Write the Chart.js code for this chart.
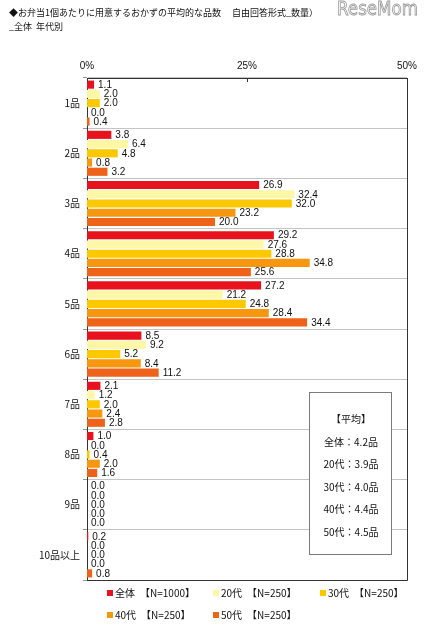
<!DOCTYPE html>
<html>
<head>
<meta charset="utf-8">
<script src="https://cdn.jsdelivr.net/npm/chart.js@4.4.1/dist/chart.umd.min.js"></script>
<style>
  html, body { margin: 0; padding: 0; background: #fff; }
  #wrap { width: 425px; height: 640px; }
</style>
</head>
<body>
<div id="wrap"><canvas id="myChart" width="425" height="640"></canvas></div>
<script>
// chart values
var categories = ['1品', '2品', '3品', '4品', '5品', '6品', '7品', '8品', '9品', '10品以上'];
var seriesNames = ['全体', '20代', '30代', '40代', '50代'];
var sampleSizes = [1000, 250, 250, 250, 250];
var valuesAll = [1.1, 3.8, 26.9, 29.2, 27.2, 8.5, 2.1, 1.0, 0.0, 0.2];
var values20s = [2.0, 6.4, 32.4, 27.6, 21.2, 9.2, 1.2, 0.0, 0.0, 0.0];
var values30s = [2.0, 4.8, 32.0, 28.8, 24.8, 5.2, 2.0, 0.4, 0.0, 0.0];
var values40s = [0.0, 0.8, 23.2, 34.8, 28.4, 8.4, 2.4, 2.0, 0.0, 0.0];
var values50s = [0.4, 3.2, 20.0, 25.6, 34.4, 11.2, 2.8, 1.6, 0.0, 0.8];
var averages = [4.2, 3.9, 4.0, 4.4, 4.5];
var tickValues = [0, 25, 50];

var seriesColors = ['#e8121c', '#fdf7a6', '#fcc800', '#f7960f', '#ef6219'];
var jpFont = '"Noto Sans CJK JP", sans-serif';
var numFont = '"Liberation Sans", Arial, sans-serif';

var allValues = [valuesAll, values20s, values30s, values40s, values50s];
var datasets = seriesNames.map(function(name, i) {
  return {
    label: name + '　【N=' + sampleSizes[i] + '】',
    data: allValues[i],
    backgroundColor: seriesColors[i],
    borderWidth: 0,
    categoryPercentage: 0.92,
    barPercentage: 0.88
  };
});

// title, logo, value labels, average box, legend, frame
var extras = {
  id: 'extras',
  afterDraw: function(chart) {
    var ctx = chart.ctx;
    var area = chart.chartArea;
    var xs = chart.scales.x;
    ctx.save();

    // title
    ctx.fillStyle = '#111';
    ctx.textBaseline = 'middle';
    ctx.textAlign = 'left';
    ctx.font = '9px ' + jpFont;
    ctx.fillText('◆お弁当1個あたりに用意するおかずの平均的な品数　 自由回答形式_数量）', 9, 13);
    ctx.fillText('_全体  年代別', 9, 27);

    // logo
    ctx.font = '19px "DejaVu Sans", sans-serif';
    var w = ctx.measureText('ReseMom').width;
    ctx.save();
    ctx.translate(337, 10);
    ctx.scale(81 / w, 1);
    ctx.strokeStyle = '#9a9a9a';
    ctx.lineWidth = 0.9;
    ctx.strokeText('ReseMom', 0, 0);
    ctx.restore();

    // value labels
    ctx.font = '10px ' + numFont;
    ctx.fillStyle = '#111';
    ctx.textAlign = 'left';
    chart.data.datasets.forEach(function(ds, i) {
      var meta = chart.getDatasetMeta(i);
      meta.data.forEach(function(bar, j) {
        ctx.fillText(ds.data[j].toFixed(1), bar.x + 4, bar.y + 0.5);
      });
    });

    // frame
    ctx.strokeStyle = '#333';
    ctx.lineWidth = 1;
    ctx.beginPath();
    ctx.moveTo(area.left, area.top + 0.5);
    ctx.lineTo(area.right + 0.5, area.top + 0.5);
    ctx.lineTo(area.right + 0.5, area.bottom + 0.5);
    ctx.lineTo(area.left, area.bottom + 0.5);
    tickValues.forEach(function(v) {
      var px = Math.round(xs.getPixelForValue(v)) + 0.5;
      ctx.moveTo(px, area.top);
      ctx.lineTo(px, area.top + 4);
    });
    ctx.stroke();

    // average box
    ctx.fillStyle = '#fff';
    ctx.fillRect(309, 392, 82, 162);
    ctx.strokeStyle = '#7a7a7a';
    ctx.strokeRect(309.5, 392.5, 82, 162);
    ctx.fillStyle = '#111';
    ctx.textAlign = 'center';
    ctx.font = '10px ' + jpFont;
    ctx.fillText('【平均】', 351, 419);
    averages.forEach(function(a, i) {
      ctx.fillText(seriesNames[i] + '：' + a.toFixed(1) + '品', 351, 442 + i * 22.5);
    });

    // legend
    var cols = [107, 213, 320];
    ctx.textAlign = 'left';
    chart.data.datasets.forEach(function(ds, i) {
      var x = cols[i % 3];
      var y = 593 + Math.floor(i / 3) * 22;
      ctx.fillStyle = ds.backgroundColor;
      ctx.fillRect(x, y - 3, 6, 6);
      ctx.fillStyle = '#111';
      ctx.fillText(ds.label, x + 8, y);
    });

    ctx.restore();
  }
};

var myChart = new Chart('myChart', {
  type: 'bar',
  data: { labels: categories, datasets: datasets },
  options: {
    indexAxis: 'y',
    responsive: false,
    animation: false,
    layout: { padding: { left: 0, top: 0, right: 18, bottom: 60 } },
    plugins: {
      legend: { display: false },
      title: { display: false },
      tooltip: { enabled: false }
    },
    scales: {
      x: {
        position: 'top',
        min: 0,
        max: 50,
        afterFit: function(scale) { scale.height = 78; },
        afterBuildTicks: function(scale) {
          scale.ticks = tickValues.map(function(v) { return { value: v }; });
        },
        ticks: {
          padding: 6,
          color: '#111',
          font: { family: numFont, size: 10 },
          callback: function(v) { return v + '%'; }
        },
        grid: { display: false, drawTicks: false },
        border: { display: true, color: '#333' }
      },
      y: {
        afterFit: function(scale) { scale.width = 87; },
        ticks: {
          padding: 3,
          color: '#111',
          font: { family: jpFont, size: 10 }
        },
        grid: { offset: true, color: '#c4c4c4', tickLength: 4, tickColor: '#999' },
        border: { display: true, color: '#333' }
      }
    }
  },
  plugins: [extras]
});
</script>
</body>
</html>
